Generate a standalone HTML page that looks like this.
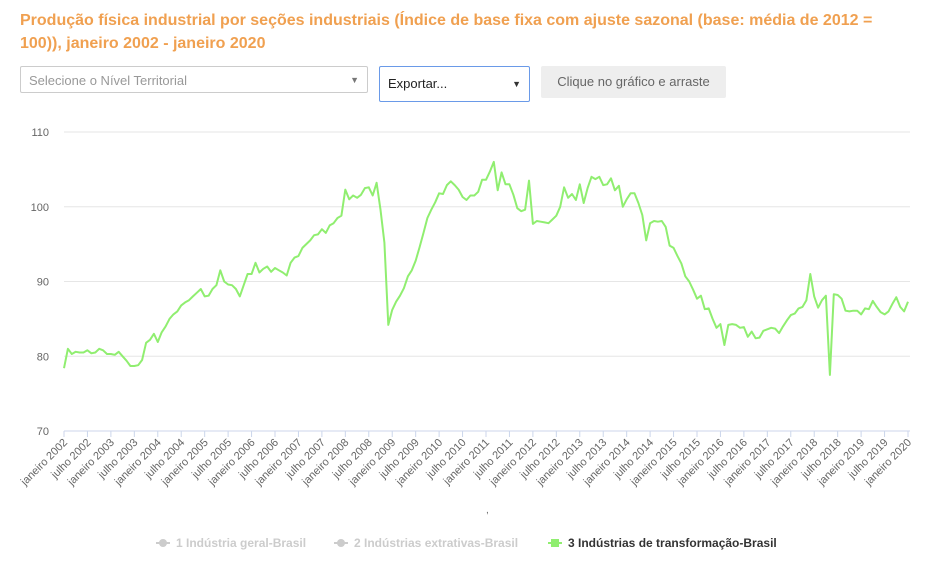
<!DOCTYPE html>
<html><head><meta charset="utf-8">
<style>
body{margin:0;width:932px;height:571px;background:#fff;font-family:"Liberation Sans",sans-serif;overflow:hidden;position:relative}
.title{position:absolute;left:20px;top:9px;width:895px;color:#f0a050;font-weight:bold;font-size:16px;line-height:23px}
.sel{position:absolute;left:20px;top:66px;width:348px;height:27px;border:1px solid #ccc;border-radius:2px;color:#999;font-size:13px;line-height:27px;box-sizing:border-box;padding-left:8px}
.exp{position:absolute;left:379px;top:66px;width:151px;height:36px;border:1px solid #6a9ae8;border-radius:2px;color:#222;font-size:13px;line-height:34px;box-sizing:border-box;padding-left:8px}
.btn{position:absolute;left:541px;top:66px;width:185px;height:32px;background:#eee;color:#666;font-size:13px;line-height:32px;text-align:center;border-radius:2px}
.arrow{position:absolute;right:8px;top:0;font-size:9px}
</style></head><body>
<div class="title">Produção física industrial por seções industriais (Índice de base fixa com ajuste sazonal (base: média de 2012 = 100)), janeiro 2002 - janeiro 2020</div>
<div class="sel">Selecione o Nível Territorial<span class="arrow" style="color:#777">▼</span></div>
<div class="exp">Exportar...<span class="arrow" style="color:#333">▼</span></div>
<div class="btn">Clique no gráfico e arraste</div>
<svg id="chart" width="932" height="571" style="position:absolute;left:0;top:0"></svg>
<script>
const years=[2002,2003,2004,2005,2006,2007,2008,2009,2010,2011,2012,2013,2014,2015,2016,2017,2018,2019,2020];
const yTicks=[70,80,90,100,110];
const seriesIndustriaTransformacao=[
78.4,81.0,80.3,80.6,80.5,80.5,80.8,80.4,80.5,81.0,80.8,80.3,
80.3,80.2,80.6,80.0,79.4,78.7,78.7,78.8,79.5,81.8,82.2,83.0,
81.9,83.2,84.0,85.0,85.6,86.0,86.8,87.2,87.5,88.0,88.5,89.0,
88.0,88.1,89.0,89.5,91.5,90.0,89.6,89.5,89.0,88.0,89.5,91.0,
91.0,92.5,91.2,91.7,92.0,91.3,91.8,91.5,91.2,90.8,92.5,93.2,
93.4,94.5,95.0,95.5,96.2,96.3,97.0,96.5,97.5,97.8,98.5,98.8,
102.3,101.0,101.5,101.2,101.6,102.5,102.6,101.5,103.2,99.6,95.2,84.2,
86.2,87.3,88.1,89.1,90.7,91.5,92.8,94.6,96.5,98.5,99.6,100.6,
101.8,101.7,102.9,103.4,102.9,102.3,101.3,100.9,101.5,101.5,102.0,103.6,
103.6,104.7,106.0,102.2,104.6,103.0,103.0,101.6,99.8,99.4,99.6,103.5,
97.7,98.1,98.0,97.9,97.8,98.3,98.8,100.0,102.6,101.2,101.7,100.9,
103.0,100.5,102.5,104.0,103.7,104.0,102.9,103.0,103.8,102.2,102.8,100.0,
101.0,101.8,101.8,100.5,98.9,95.5,97.8,98.1,98.0,98.1,97.3,94.8,
94.5,93.4,92.4,90.7,90.0,88.9,87.7,88.1,86.3,86.4,85.0,83.8,
84.3,81.5,84.2,84.3,84.2,83.8,83.9,82.6,83.3,82.4,82.5,83.4,
83.6,83.8,83.7,83.1,84.0,84.8,85.5,85.7,86.4,86.6,87.5,91.0,
88.0,86.5,87.5,88.1,77.5,88.3,88.2,87.7,86.1,86.0,86.1,86.1,
85.6,86.4,86.3,87.4,86.6,85.9,85.6,86.0,87.0,87.9,86.6,86.0,
87.3];
const legendLabels=["1 Indústria geral-Brasil","2 Indústrias extrativas-Brasil","3 Indústrias de transformação-Brasil"];
const legendColors=["#ccc","#ccc","#90ee70"];

const NS="http://www.w3.org/2000/svg";
const svg=document.getElementById('chart');
const X0=64,X1=908,Y0=431,Y1=132;
const n=seriesIndustriaTransformacao.length;
const xs=i=>X0+(X1-X0)*i/(n-1);
const ys=v=>Y0-(v-70)/40*(Y0-Y1);
function mk(t,a){const e=document.createElementNS(NS,t);for(const k in a)e.setAttribute(k,a[k]);svg.appendChild(e);return e;}
yTicks.forEach(t=>{
  const l=mk('line',{x1:X0,x2:910,y1:ys(t),y2:ys(t),stroke:t===70?'#ccd6eb':'#e6e6e6','stroke-width':1});
  
  
  const tx=mk('text',{x:49,y:ys(t)+4,'text-anchor':'end','font-size':11,fill:'#666','font-family':'Liberation Sans, sans-serif'});
  tx.textContent=t;
  
  
});
for(let i=0;i<n;i+=6){
  const x=xs(i);
  const tk=mk('line',{x1:x,x2:x,y1:Y0,y2:Y0+6,stroke:'#ccd6eb'});
  
  
  const yr=years[Math.floor(i/12)];
  const lbl=(i%12===0?'janeiro ':'julho ')+yr;
  const t=mk('text',{x:x+4,y:Y0+12,'text-anchor':'end','font-size':11,fill:'#666','font-family':'Liberation Sans, sans-serif',transform:`rotate(-45 ${x+4} ${Y0+12})`});
  t.textContent=lbl;
  
  
}
const c=mk('text',{x:486,y:513,'font-size':10,fill:'#666'});c.textContent=',';


const p=mk('path',{d:seriesIndustriaTransformacao.map((v,i)=>(i?'L':'M')+xs(i).toFixed(1)+' '+ys(v).toFixed(1)).join(''),fill:'none',stroke:'#90ee70','stroke-width':2,'stroke-linejoin':'round'});


const lx=[156,334,548];
legendLabels.forEach((s,i)=>{
  const g=mk('g',{});
  
  
  const ln=document.createElementNS(NS,'line');ln.setAttribute('x1',lx[i]);ln.setAttribute('x2',lx[i]+14);ln.setAttribute('y1',543);ln.setAttribute('y2',543);ln.setAttribute('stroke',legendColors[i]);ln.setAttribute('stroke-width',2);g.appendChild(ln);
  const m=document.createElementNS(NS,i===2?'rect':'circle');
  if(i===2){m.setAttribute('x',lx[i]+3);m.setAttribute('y',539);m.setAttribute('width',8);m.setAttribute('height',8);}
  else{m.setAttribute('cx',lx[i]+7);m.setAttribute('cy',543);m.setAttribute('r',4);}
  m.setAttribute('fill',legendColors[i]);g.appendChild(m);
  const t=document.createElementNS(NS,'text');t.setAttribute('x',lx[i]+20);t.setAttribute('y',547);t.setAttribute('font-size',12);t.setAttribute('font-weight','bold');t.setAttribute('font-family','Liberation Sans, sans-serif');t.setAttribute('fill',i===2?'#333':'#ccc');t.textContent=s;g.appendChild(t);
});
</script>
</body></html>
